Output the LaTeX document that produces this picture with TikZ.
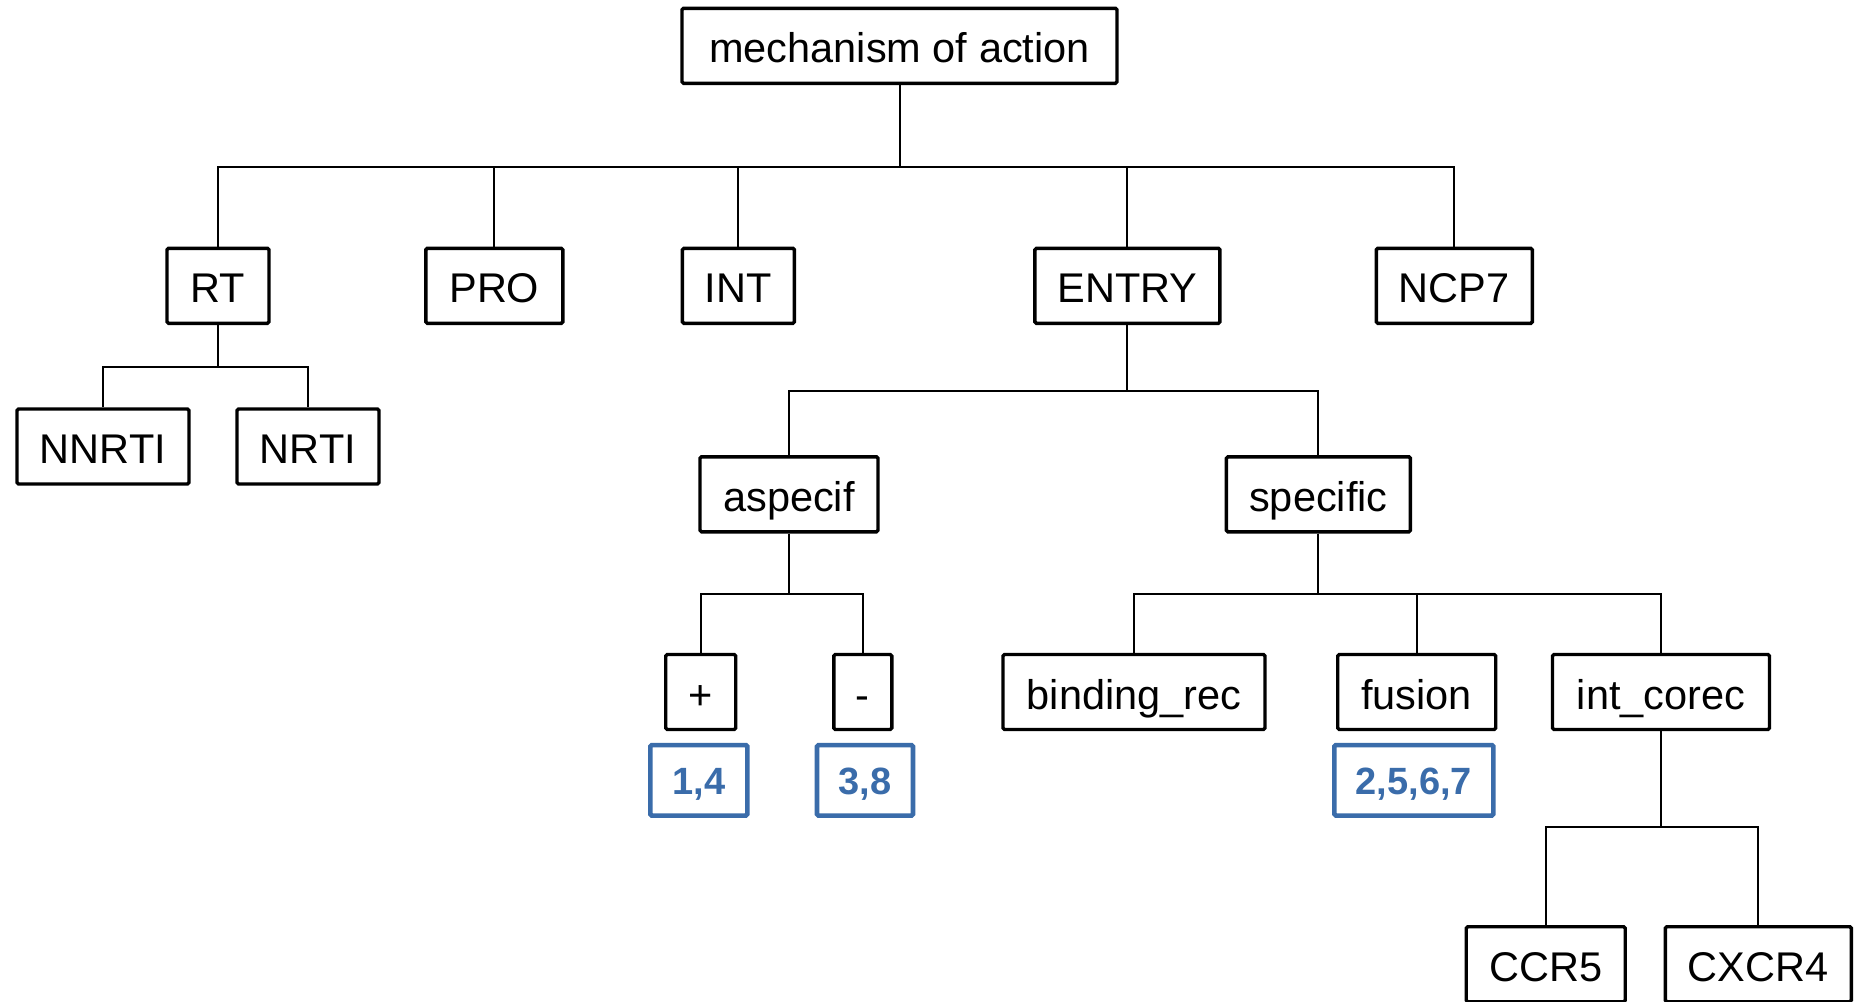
\documentclass[tikz,border=0pt]{standalone}
\usepackage{fontspec}
\setmainfont{Liberation Sans}
\definecolor{idblue}{RGB}{58,108,170}
\begin{document}
\begin{tikzpicture}[x=1pt,y=-1pt,
  box/.style={draw=black, line width=3.4pt, rounded corners=1.5pt, fill=white,
    inner sep=0pt, minimum height=75pt,
    font=\fontsize{41.5}{48}\selectfont, text height=34pt, text depth=0pt},
  idbox/.style={draw=idblue, line width=4.6pt, rounded corners=1.5pt, fill=white,
    inner sep=0pt, minimum height=70.5pt, text=idblue,
    font=\fontsize{38}{44}\selectfont\bfseries, text height=27.4pt, text depth=0pt},
  link/.style={draw=black, line width=2pt}]
\useasboundingbox (0,0) rectangle (1854,1001);
\begin{scope}
\clip (0,0) rectangle (1854,1001);
% levels of the tree
\node[box, minimum width=435pt] (moa) at (899.5,45.8) {mechanism of action};
\node[box, minimum width=102pt] (rt)    at (218,285.8)    {RT};
\node[box, minimum width=137pt] (pro)   at (494.3,285.8)  {PRO};
\node[box, minimum width=112pt] (int)   at (738.4,285.8)  {INT};
\node[box, minimum width=185pt] (entry) at (1127.4,285.8) {ENTRY};
\node[box, minimum width=156pt] (ncp)   at (1454.3,285.8) {NCP7};
\node[box, minimum width=172pt] (nnrti) at (103,446.5)    {NNRTI};
\node[box, minimum width=142pt] (nrti)  at (308,446.5)    {NRTI};
\node[box, minimum width=178pt] (asp)   at (789,494.3)    {aspecif};
\node[box, minimum width=184pt] (spec)  at (1318.4,494.3) {specific};
\node[box, minimum width=70pt]  (plus)  at (700.7,692)    {+};
\node[box, minimum width=58pt]  (minus) at (862.8,692)    {-};
\node[box, minimum width=262pt] (bind)  at (1134,692)     {binding\_rec};
\node[box, minimum width=158pt] (fus)   at (1416.7,692)   {fusion};
\node[box, minimum width=217pt] (icor)  at (1661,692)     {int\_corec};
\node[box, minimum width=159pt] (ccr)   at (1545.7,964.2) {CCR5};
\node[box, minimum width=186pt] (cxcr)  at (1758.3,964.2) {CXCR4};
% identifier boxes
\node[idbox, minimum width=97pt]  (id14)   at (698.8,780.3)  {1,4};
\node[idbox, minimum width=96pt]  (id38)   at (865,780.3)    {3,8};
\node[idbox, minimum width=159pt] (id2567) at (1413.8,780.3) {2,5,6,7};
% bus heights
\coordinate (b0) at (0,167);
\coordinate (b1) at (0,367);
\coordinate (b2) at (0,391);
\coordinate (b3) at (0,593.5);
\coordinate (b4) at (0,827.3);
% connectors
\foreach \c in {rt,pro,int,entry,ncp}
  \draw[link] (moa.south) -- (moa.south |- b0) -| (\c.north);
\foreach \c in {nnrti,nrti}
  \draw[link] (rt.south) -- (rt.south |- b1) -| (\c.north);
\foreach \c in {asp,spec}
  \draw[link] (entry.south) -- (entry.south |- b2) -| (\c.north);
\foreach \c in {plus,minus}
  \draw[link] (asp.south) -- (asp.south |- b3) -| (\c.north);
\foreach \c in {bind,fus,icor}
  \draw[link] (spec.south) -- (spec.south |- b3) -| (\c.north);
\foreach \c in {ccr,cxcr}
  \draw[link] (icor.south) -- (icor.south |- b4) -| (\c.north);
\end{scope}
\end{tikzpicture}
\end{document}
